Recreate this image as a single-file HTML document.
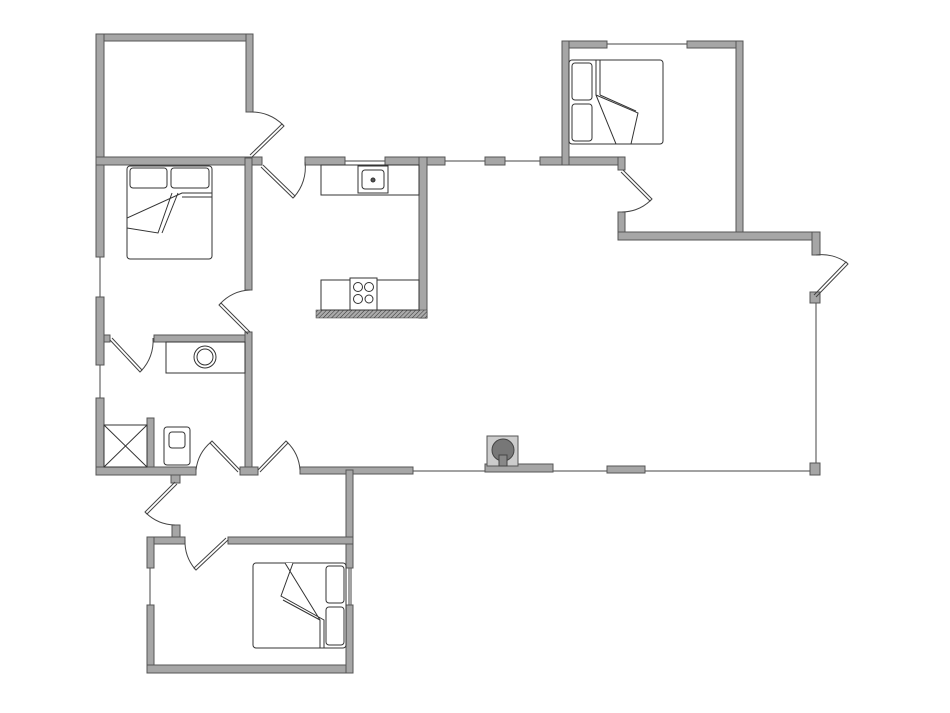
<!DOCTYPE html>
<html><head><meta charset="utf-8"><style>html,body{margin:0;padding:0;background:#fff}svg{display:block}</style></head>
<body>
<svg width="950" height="713" viewBox="0 0 950 713" xmlns="http://www.w3.org/2000/svg">
<defs>
<pattern id="h" width="3" height="3" patternUnits="userSpaceOnUse" patternTransform="rotate(45)"><rect width="3" height="3" fill="#aaa"/><line x1="0" y1="0" x2="0" y2="3" stroke="#333" stroke-width="1"/></pattern>
</defs>
<g fill="none" stroke="#444" stroke-width="1">
<!-- window lines -->
<line x1="100" y1="257" x2="100" y2="297"/>
<line x1="100" y1="365" x2="100" y2="398"/>
<line x1="345" y1="161" x2="385" y2="161"/>
<line x1="445" y1="161" x2="485" y2="161"/>
<line x1="505" y1="161" x2="540" y2="161"/>
<line x1="607" y1="44" x2="687" y2="44"/>
<line x1="816" y1="303" x2="816" y2="463"/>
<line x1="413" y1="471" x2="485" y2="471"/>
<line x1="553" y1="471" x2="607" y2="471"/>
<line x1="645" y1="471" x2="812" y2="471"/>
<line x1="150" y1="568" x2="150" y2="605"/>
<line x1="349" y1="568" x2="349" y2="605"/>
<line x1="351" y1="568" x2="351" y2="605"/>
</g>
<g fill="#a6a6a6" stroke="#555" stroke-width="1">
<!-- top-left room -->
<rect x="96" y="34" width="157" height="7"/>
<rect x="96" y="34" width="8" height="223"/>
<rect x="246" y="34" width="7" height="78"/>
<rect x="96" y="157" width="166" height="8"/>
<rect x="96" y="297" width="8" height="68"/>
<rect x="104" y="335" width="6" height="7"/>
<rect x="96" y="398" width="8" height="77"/>
<rect x="245" y="158" width="7" height="132"/>
<rect x="154" y="335" width="98" height="7"/>
<rect x="245" y="332" width="7" height="140"/>
<rect x="147" y="418" width="7" height="52"/>
<rect x="96" y="467" width="100" height="8"/>
<rect x="240" y="467" width="18" height="8"/>
<rect x="300" y="467" width="113" height="7"/>
<rect x="485" y="464" width="68" height="8"/>
<rect x="607" y="466" width="38" height="7"/>
<rect x="810" y="463" width="10" height="12"/>
<rect x="171" y="475" width="9" height="8"/>
<rect x="346" y="470" width="7" height="98"/>
<!-- bottom bedroom -->
<rect x="172" y="525" width="8" height="12"/>
<rect x="147" y="537" width="38" height="7"/>
<rect x="228" y="537" width="125" height="7"/>
<rect x="147" y="537" width="7" height="31"/>
<rect x="147" y="605" width="7" height="68"/>
<rect x="147" y="665" width="206" height="8"/>
<rect x="346" y="605" width="7" height="68"/>
<!-- kitchen -->
<rect x="305" y="157" width="40" height="8"/>
<rect x="385" y="157" width="60" height="8"/>
<rect x="419" y="157" width="8" height="161"/>
<rect x="485" y="157" width="20" height="8"/>
<rect x="540" y="157" width="85" height="8"/>
<!-- top right -->
<rect x="562" y="41" width="45" height="7"/>
<rect x="687" y="41" width="56" height="7"/>
<rect x="562" y="41" width="7" height="124"/>
<rect x="736" y="41" width="7" height="199"/>
<rect x="618" y="157" width="7" height="13"/>
<rect x="618" y="212" width="7" height="28"/>
<rect x="618" y="232" width="202" height="8"/>
<rect x="812" y="232" width="8" height="23"/>
<rect x="810" y="292" width="10" height="11"/>
</g>
<rect x="316" y="310" width="111" height="8" fill="url(#h)" stroke="#333" stroke-width="0.5"/>
<g fill="#fff" stroke="#333" stroke-width="1">
<!-- kitchen counters -->
<rect x="321" y="165" width="98" height="30"/>
<rect x="358" y="166" width="30" height="27"/>
<rect x="362" y="170" width="22" height="19" rx="3"/>
<circle cx="373" cy="180" r="2" fill="#555"/>
<rect x="321" y="280" width="98" height="30"/>
<rect x="350" y="278" width="27" height="32"/>
<circle cx="358" cy="287" r="4.5"/><circle cx="369" cy="287" r="4.5"/><circle cx="358" cy="299" r="4.5"/><circle cx="369" cy="299" r="4"/>
<!-- bath -->
<rect x="166" y="342" width="79" height="31"/>
<circle cx="205" cy="357" r="11"/><circle cx="205" cy="357" r="8"/>
<rect x="104" y="425" width="43" height="42"/>
<line x1="104" y1="425" x2="147" y2="467"/><line x1="147" y1="425" x2="104" y2="467"/>
<rect x="164" y="427" width="26" height="38" rx="3"/>
<rect x="169" y="432" width="16" height="16" rx="3"/>
<!-- beds -->
<rect x="127" y="166" width="85" height="93" rx="3"/>
<rect x="130" y="168" width="37" height="20" rx="3"/>
<rect x="171" y="168" width="38" height="20" rx="3"/>
<polyline points="212,193 182,193 127,218 127,228 158,233 172,193"/>
<line x1="178" y1="193" x2="162" y2="233"/><line x1="182" y1="197" x2="212" y2="197"/>
<rect x="569" y="60" width="94" height="84" rx="3"/>
<rect x="572" y="63" width="20" height="37" rx="3"/>
<rect x="572" y="104" width="20" height="37" rx="3"/>
<polyline points="596,60 596,95 638,113 631,144 616,144 596,95"/>
<line x1="600" y1="60" x2="600" y2="95"/><line x1="600" y1="95" x2="636" y2="111"/>
<rect x="253" y="563" width="93" height="85" rx="3"/>
<rect x="326" y="566" width="18" height="37" rx="3"/>
<rect x="326" y="607" width="18" height="38" rx="3"/>
<polyline points="285,563 320,620 320,648 324,648 324,620 281,596 293,563"/>
<line x1="283" y1="600" x2="320" y2="620"/>
</g>
<!-- fireplace -->
<rect x="487" y="436" width="31" height="30" fill="#ccc" stroke="#555"/>
<circle cx="503" cy="450" r="11" fill="#777" stroke="#444"/>
<rect x="499" y="455" width="8" height="11" fill="#888" stroke="#444"/>
<!-- doors -->
<g fill="none" stroke="#444" stroke-width="1">
<polyline points="250,155 282,124 284,126 252,157"/><path d="M250,112 A44,44 0 0 1 283,125"/>
<polyline points="263,165 295,196 293,198 261,167"/><path d="M305,162 A44,44 0 0 1 294,197"/>
<polyline points="250,332 221,303 219,305 248,334"/><path d="M250,290 A42,42 0 0 0 220,304"/>
<polyline points="110,340 140,372 142,370 112,338"/><path d="M153,338 A43,43 0 0 1 141,371"/>
<polyline points="240,470 212,441 210,443 238,472"/><path d="M196,470 A43,43 0 0 1 211,442"/>
<polyline points="258,470 286,441 288,443 260,472"/><path d="M300,470 A43,43 0 0 0 287,442"/>
<polyline points="175,482 145,512 147,514 177,484"/><path d="M175,525 A43,43 0 0 1 146,513"/>
<polyline points="228,540 196,570 194,568 226,538"/><path d="M185,540 A43,43 0 0 0 195,569"/>
<polyline points="623,170 652,199 650,201 621,172"/><path d="M622,212 A42,42 0 0 0 651,200"/>
<polyline points="816,297 848,264 846,262 814,295"/><path d="M816,255 A42,42 0 0 1 847,263"/>
</g>
</svg>
</body></html>
